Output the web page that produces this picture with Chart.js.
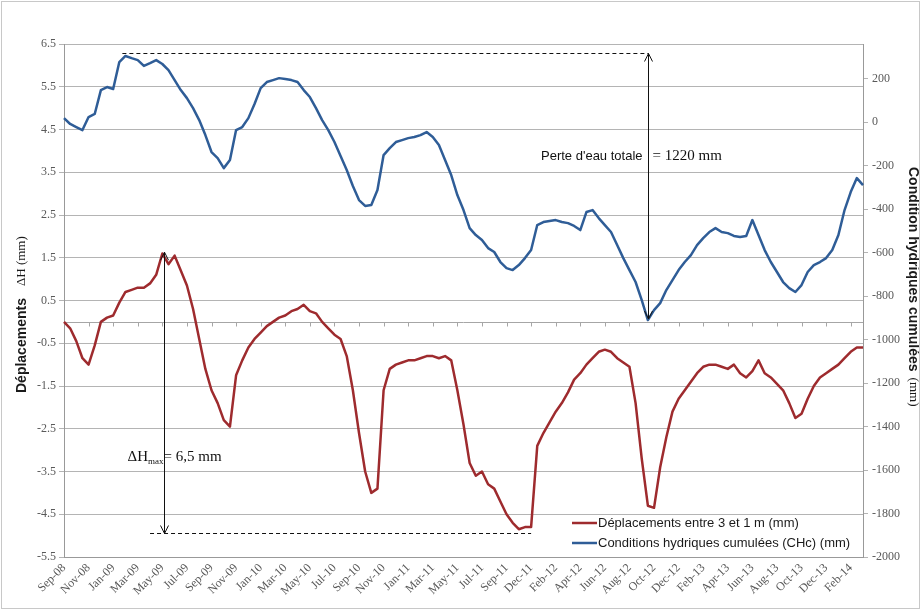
<!DOCTYPE html>
<html>
<head>
<meta charset="utf-8">
<script src="https://cdn.jsdelivr.net/npm/chart.js@4.4.0/dist/chart.umd.min.js"></script>
<style>
  body { margin: 0; background: #fff; }
</style>
</head>
<body>
<canvas id="myChart" width="921" height="610"></canvas>
<script>
// tick labels on the time axis (one every 4 samples)
var tickLabels = ['Sep-08', 'Nov-08', 'Jan-09', 'Mar-09', 'May-09', 'Jul-09', 'Sep-09', 'Nov-09',
    'Jan-10', 'Mar-10', 'May-10', 'Jul-10', 'Sep-10', 'Nov-10', 'Jan-11', 'Mar-11', 'May-11',
    'Jul-11', 'Sep-11', 'Dec-11', 'Feb-12', 'Apr-12', 'Jun-12', 'Aug-12', 'Oct-12', 'Dec-12',
    'Feb-13', 'Apr-13', 'Jun-13', 'Aug-13', 'Oct-13', 'Dec-13', 'Feb-14'];
var samplesPerLabel = 4;

// right axis tick values
var rightTicks = [-2000, -1800, -1600, -1400, -1200, -1000, -800, -600, -400, -200, 0, 200];

// Déplacements entre 3 et 1 m (mm) - left axis
var deplacements = [
    0.0, -0.15, -0.45, -0.85, -1.0, -0.55, 0.0, 0.1, 0.15, 0.45, 0.7,
    0.75, 0.8, 0.8, 0.9, 1.1, 1.6, 1.35, 1.55, 1.2, 0.85,
    0.3, -0.4, -1.1, -1.6, -1.9, -2.3, -2.45, -1.25, -0.9, -0.6,
    -0.4, -0.25, -0.1, 0.0, 0.1, 0.15, 0.25, 0.3, 0.4, 0.25,
    0.2, 0.0, -0.15, -0.3, -0.4, -0.8, -1.6, -2.6, -3.5, -4.0,
    -3.9, -1.6, -1.1, -1.0, -0.95, -0.9, -0.9, -0.85, -0.8, -0.8,
    -0.85, -0.8, -0.9, -1.6, -2.4, -3.3, -3.6, -3.5, -3.8, -3.9,
    -4.2, -4.5, -4.7, -4.85, -4.8, -4.8, -2.9, -2.6, -2.35, -2.1,
    -1.9, -1.65, -1.35, -1.2, -1.0, -0.85, -0.7, -0.65, -0.7, -0.85,
    -0.95, -1.05, -1.9, -3.2, -4.3, -4.35, -3.4, -2.7, -2.1, -1.8,
    -1.6, -1.4, -1.2, -1.05, -1.0, -1.0, -1.05, -1.1, -1.0, -1.2,
    -1.3, -1.15, -0.9, -1.2, -1.3, -1.45, -1.6, -1.9, -2.25, -2.15,
    -1.8, -1.5, -1.3, -1.2, -1.1, -1.0, -0.85, -0.7, -0.6, -0.6
];

// Conditions hydriques cumulées (CHc) (mm) - right axis
var chc = [
    19, -8, -22, -36, 24, 38, 148, 162, 153, 277, 305,
    295, 286, 259, 272, 286, 268, 240, 194, 148, 111,
    65, 10, -59, -137, -165, -211, -174, -36, -22, 19,
    84, 157, 185, 194, 203, 199, 194, 185, 148, 116,
    65, 10, -36, -91, -155, -220, -293, -358, -385, -381,
    -312, -151, -119, -91, -82, -73, -68, -59, -45, -68,
    -105, -174, -243, -335, -404, -487, -519, -542, -579, -597,
    -643, -671, -680, -657, -625, -588, -473, -459, -454, -450,
    -459, -464, -477, -496, -413, -404, -441, -473, -505, -565,
    -625, -680, -735, -818, -910, -864, -832, -772, -726, -680,
    -643, -611, -565, -533, -505, -487, -505, -510, -523, -528,
    -523, -450, -519, -588, -643, -689, -735, -763, -781, -749,
    -689, -657, -643, -625, -588, -519, -404, -321, -257, -289
];

var seriesNames = ['Déplacements entre 3 et 1 m (mm)', 'Conditions hydriques cumulées (CHc) (mm)'];
var seriesColors = ['#9e2b2e', '#2f5d97'];

// annotation anchors (sample index / axis values)
var dhArrowAt = 16.3, dhTop = 1.63, dhBottom = -4.94, dhLineFrom = 14, dhLineTo = 76;
var chcArrowAt = 95.1, chcTop = 318, chcBottom = -905, chcLineFrom = 9.5;

var sans = '"Liberation Sans", Arial, sans-serif';
var serif = '"Liberation Serif", "Times New Roman", serif';
var gridColor = '#b4b4b4';
var tickColor = '#595959';

var sampleIndex = deplacements.map(function (v, i) { return i; });

function arrow(ctx, px, yTop, yBot) {
    ctx.beginPath();
    ctx.moveTo(px, yTop);
    ctx.lineTo(px, yBot);
    ctx.moveTo(px - 4, yTop + 8);
    ctx.lineTo(px, yTop);
    ctx.lineTo(px + 4, yTop + 8);
    ctx.moveTo(px - 4, yBot - 8);
    ctx.lineTo(px, yBot);
    ctx.lineTo(px + 4, yBot - 8);
    ctx.stroke();
}

function dashed(ctx, x1, x2, py) {
    ctx.save();
    ctx.setLineDash([4, 3]);
    ctx.beginPath();
    ctx.moveTo(x1, py);
    ctx.lineTo(x2, py);
    ctx.stroke();
    ctx.restore();
}

var extras = {
    id: 'extras',
    beforeDatasetsDraw: function (chart) {
        var ctx = chart.ctx, a = chart.chartArea;
        var xs = chart.scales.x, yl = chart.scales.y;
        var y0 = Math.round(yl.getPixelForValue(0)) + 0.5;
        ctx.save();
        ctx.strokeStyle = '#a6a6a6';
        ctx.lineWidth = 1;
        ctx.beginPath();
        ctx.moveTo(a.left, y0);
        ctx.lineTo(a.right, y0);
        for (var i = 1; i < tickLabels.length; i++) {
            var px = Math.round(xs.getPixelForValue(i * samplesPerLabel)) + 0.5;
            ctx.moveTo(px, y0);
            ctx.lineTo(px, y0 + 4);
        }
        ctx.stroke();
        ctx.restore();
    },
    afterDatasetsDraw: function (chart) {
        var ctx = chart.ctx, a = chart.chartArea;
        var xs = chart.scales.x, yl = chart.scales.y, yr = chart.scales.y1;
        ctx.save();
        ctx.strokeStyle = '#111';
        ctx.fillStyle = '#111';
        ctx.lineWidth = 1;

        // ΔHmax arrow
        var ax = Math.round(xs.getPixelForValue(dhArrowAt)) + 0.5;
        var yb = Math.round(yl.getPixelForValue(dhBottom)) + 0.5;
        dashed(ctx, xs.getPixelForValue(dhLineFrom), xs.getPixelForValue(dhLineTo), yb);
        arrow(ctx, ax, yl.getPixelForValue(dhTop), yb);

        var ty = yl.getPixelForValue(-3.16);
        ctx.textBaseline = 'middle';
        ctx.font = '9px ' + serif;
        var wMax = ctx.measureText('max').width;
        ctx.textAlign = 'right';
        ctx.fillText('max', ax - 1, ty + 5);
        ctx.font = '15px ' + serif;
        ctx.fillText('ΔH', ax - 1 - wMax, ty);
        ctx.textAlign = 'left';
        ctx.fillText('= 6,5 mm', ax - 1, ty);

        // water loss arrow
        var bx = Math.round(xs.getPixelForValue(chcArrowAt)) + 0.5;
        var yt = Math.round(yr.getPixelForValue(chcTop)) + 0.5;
        dashed(ctx, xs.getPixelForValue(chcLineFrom), bx, yt);
        arrow(ctx, bx, yt, yr.getPixelForValue(chcBottom));

        var ly = yr.getPixelForValue(-155);
        ctx.font = '13px ' + sans;
        ctx.textAlign = 'right';
        ctx.fillText('Perte d\'eau totale', bx - 6, ly);
        ctx.font = '15px ' + serif;
        ctx.textAlign = 'left';
        ctx.fillText('= 1220 mm', bx + 4, ly);

        // legend
        ctx.font = '13px ' + sans;
        ctx.textAlign = 'left';
        for (var i = 0; i < seriesNames.length; i++) {
            var gy = a.bottom - 34 + i * 20;
            ctx.strokeStyle = seriesColors[i];
            ctx.lineWidth = 2.5;
            ctx.beginPath();
            ctx.moveTo(a.right - 291, gy);
            ctx.lineTo(a.right - 266, gy);
            ctx.stroke();
            ctx.fillStyle = '#1a1a1a';
            ctx.fillText(seriesNames[i], a.right - 265, gy);
        }

        // axis titles
        ctx.fillStyle = '#1a1a1a';
        ctx.save();
        ctx.translate(22, 393);
        ctx.rotate(-Math.PI / 2);
        ctx.font = 'bold 14px ' + sans;
        ctx.fillText('Déplacements', 0, 0);
        var w1 = ctx.measureText('Déplacements').width;
        ctx.font = '13px ' + serif;
        ctx.fillText('ΔH (mm)', w1 + 12, 0);
        ctx.restore();

        ctx.save();
        ctx.translate(913, 167);
        ctx.rotate(Math.PI / 2);
        ctx.font = 'bold 14px ' + sans;
        ctx.fillText('Condition hydriques cumulées', 0, 0);
        var w2 = ctx.measureText('Condition hydriques cumulées').width;
        ctx.font = '13px ' + serif;
        ctx.fillText('(mm)', w2 + 6, 0);
        ctx.restore();

        // chart border
        ctx.strokeStyle = '#c8c8c8';
        ctx.lineWidth = 1;
        ctx.strokeRect(1.5, 1.5, chart.width - 3, chart.height - 3);
        ctx.restore();
    }
};

var ctx = document.getElementById('myChart').getContext('2d');
new Chart(ctx, {
    type: 'line',
    data: {
        labels: sampleIndex,
        datasets: [
            {
                label: seriesNames[0],
                data: deplacements,
                borderColor: seriesColors[0],
                yAxisID: 'y'
            },
            {
                label: seriesNames[1],
                data: chc,
                borderColor: seriesColors[1],
                yAxisID: 'y1'
            }
        ]
    },
    options: {
        responsive: false,
        animation: false,
        layout: { padding: { top: 44, left: 0, right: 0, bottom: 0 } },
        elements: {
            point: { radius: 0 },
            line: { borderWidth: 2.5, tension: 0, borderJoinStyle: 'round' }
        },
        plugins: {
            legend: { display: false },
            tooltip: { enabled: false }
        },
        scales: {
            x: {
                type: 'category',
                grid: { display: false, drawTicks: false },
                border: { display: true, color: '#999' },
                afterBuildTicks: function (scale) {
                    scale.ticks = scale.ticks.filter(function (t) { return t.value % samplesPerLabel === 0; });
                },
                afterFit: function (scale) { scale.height = 53; },
                ticks: {
                    autoSkip: false,
                    minRotation: 45,
                    maxRotation: 45,
                    padding: 4,
                    color: tickColor,
                    font: { family: serif, size: 12 },
                    callback: function (value) { return tickLabels[value / samplesPerLabel]; }
                }
            },
            y: {
                position: 'left',
                min: -5.5,
                max: 6.5,
                grid: { color: gridColor, tickLength: 5 },
                border: { color: '#999' },
                afterFit: function (scale) { scale.width = 64; },
                ticks: {
                    stepSize: 1,
                    padding: 3,
                    color: tickColor,
                    font: { family: serif, size: 12 },
                    callback: function (v) { return v.toFixed(1); }
                }
            },
            y1: {
                position: 'right',
                min: -2000,
                max: 360,
                grid: { drawOnChartArea: false, color: gridColor, tickLength: 5 },
                border: { color: '#999' },
                afterBuildTicks: function (scale) {
                    scale.ticks = rightTicks.map(function (v) { return { value: v }; });
                },
                afterFit: function (scale) { scale.width = 58; },
                ticks: {
                    autoSkip: false,
                    padding: 4,
                    color: tickColor,
                    font: { family: serif, size: 12 },
                    callback: function (v) { return String(v); }
                }
            }
        }
    },
    plugins: [extras]
});
</script>
</body>
</html>
